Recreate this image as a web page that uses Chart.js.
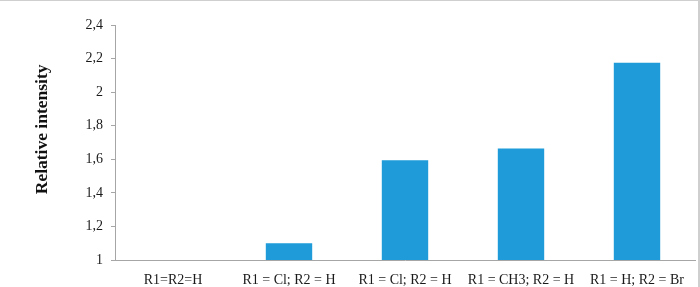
<!DOCTYPE html>
<html>
<head>
<meta charset="utf-8">
<script src="https://cdn.jsdelivr.net/npm/chart.js@4/dist/chart.umd.min.js"></script>
<style>
    html, body { margin: 0; padding: 0; background: #fff; }
    #wrap { position: relative; width: 700px; height: 287px; box-sizing: border-box; border-top: 1px solid #cfcfcf; border-right: 2px solid #cfcfcf; }
</style>
</head>
<body>
<div id="wrap"><canvas id="barChart"></canvas></div>
<script>
const categories = ['R1=R2=H', 'R1 = Cl; R2 = H', 'R1 = Cl; R2 = H', 'R1 = CH3; R2 = H', 'R1 = H; R2 = Br']
const intensities = [1, 1.1, 1.595, 1.665, 2.175]
const yTicks = [1, 1.2, 1.4, 1.6, 1.8, 2, 2.2, 2.4]

const serif = '"Liberation Serif", "Times New Roman", serif'

const createBarChart = () => {
    const data = {
        labels: categories,
        datasets: [{
            label: 'Relative intensity',
            data: intensities,
            backgroundColor: '#1e9bd8',
            borderWidth: 0,
            barPercentage: 0.4,
            categoryPercentage: 1
        }]
    }
    const config = {
        type: 'bar',
        data: data,
        options: {
            responsive: true,
            maintainAspectRatio: false,
            animation: false,
            layout: { padding: { top: 24, right: 3, left: 0, bottom: 0 } },
            plugins: {
                legend: { display: false },
                tooltip: { enabled: false }
            },
            scales: {
                x: {
                    grid: { display: false },
                    border: { color: '#a6a6a6', width: 1 },
                    ticks: {
                        color: '#1a1a1a',
                        font: { family: serif, size: 14 },
                        padding: 4,
                        maxRotation: 0,
                        autoSkip: false
                    },
                    afterFit: (scale) => { scale.height = 27 }
                },
                y: {
                    min: 1,
                    max: 2.4,
                    afterBuildTicks: (scale) => { scale.ticks = yTicks.map(v => ({ value: v })) },
                    grid: { drawOnChartArea: false, drawTicks: true, tickLength: 4, color: '#a6a6a6' },
                    border: { color: '#a6a6a6', width: 1 },
                    ticks: {
                        color: '#1a1a1a',
                        font: { family: serif, size: 14 },
                        padding: 8,
                        callback: (v) => String(Math.round(v * 10) / 10).replace('.', ',')
                    },
                    title: {
                        display: true,
                        // leading spaces nudge the rotated title upward like the original
                        text: '\u00a0\u00a0\u00a0\u00a0\u00a0\u00a0Relative intensity',
                        color: '#111',
                        font: { family: serif, size: 17.5, weight: 'bold' },
                        padding: { top: 32, bottom: 0 }
                    },
                    afterFit: (scale) => { scale.width = 115 }
                }
            }
        }
    }
    return new Chart(document.getElementById('barChart'), config)
}

createBarChart()
</script>
</body>
</html>
